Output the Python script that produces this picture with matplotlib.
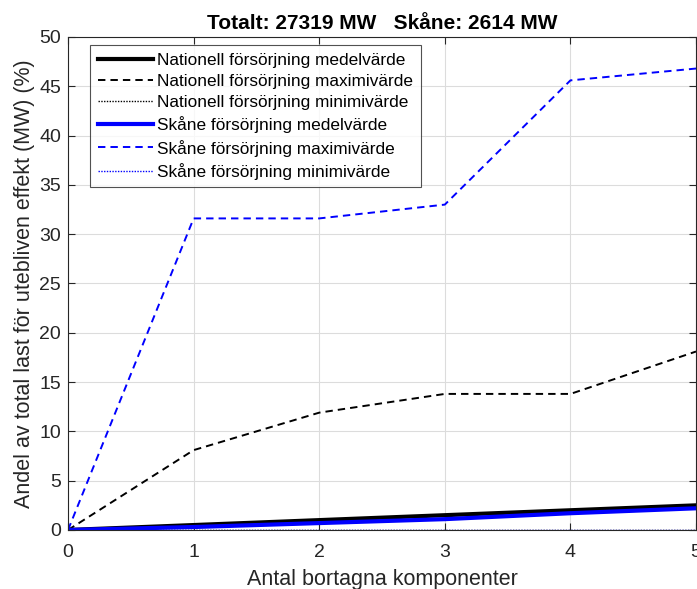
import numpy as np
import matplotlib
matplotlib.use("Agg")
from matplotlib import pyplot as plt

plt.rcParams['font.family'] = ['Liberation Sans', 'DejaVu Sans']

# antal bortagna komponenter
x = [0, 1, 2, 3, 4, 5]

nat_mean = [0, 0.5, 1.0, 1.5, 2.0, 2.5]
nat_max = [0, 8.1, 11.9, 13.8, 13.8, 18.1]
nat_min = [0, 0, 0, 0, 0, 0]
sk_mean = [0, 0.3, 0.7, 1.1, 1.7, 2.2]
sk_max = [0, 31.6, 31.6, 33.0, 45.6, 46.8]
sk_min = [0, 0, 0, 0, 0, 0]

labels = ["Nationell försörjning medelvärde", "Nationell försörjning maximivärde",
          "Nationell försörjning minimivärde", "Skåne försörjning medelvärde",
          "Skåne försörjning maximivärde", "Skåne försörjning minimivärde"]
title = "Totalt: 27319 MW   Skåne: 2614 MW"

fig = plt.figure(figsize=(6.97, 5.89), dpi=100)
ax = fig.add_axes([0.0976, 0.1002, 0.901, 0.8370])

dash = (0, (3.8, 2.6))
dot = (0, (1, 1))
ax.plot(x, nat_mean, color='k', lw=3.0, label=labels[0])
ax.plot(x, nat_max, color='k', lw=1.4, ls=dash, label=labels[1])
ax.plot(x, nat_min, color='k', lw=1.0, ls=dot, label=labels[2])
ax.plot(x, sk_mean, color='#0000ff', lw=3.0, label=labels[3])
ax.plot(x, sk_max, color='#0000ff', lw=1.4, ls=dash, label=labels[4])
ax.plot(x, sk_min, color='#0000ff', lw=1.0, ls=dot, label=labels[5])

ax.set_xlim(0, 5)
ax.set_ylim(0, 50)
ax.set_xticks(range(0, 6))
ax.set_yticks(range(0, 51, 5))
ax.grid(True, color='#dcdcdc', lw=0.8)
ax.set_axisbelow(True)
ax.tick_params(direction='in', top=True, right=True, labelsize=14,
               colors='#262626', length=5, pad=5)
ax.tick_params(axis='x', pad=10)
for s in ax.spines.values():
    s.set_color('#262626')
    s.set_linewidth(0.8)

ax.set_xlabel("Antal bortagna komponenter", fontsize=15.5, color='#262626', labelpad=6)
ax.set_ylabel("Andel av total last för utebliven effekt (MW) (%)", fontsize=15.5,
              color='#262626', labelpad=3)
ax.set_title(title, fontsize=15, fontweight='bold', pad=6)

leg = ax.legend(loc='upper left', bbox_to_anchor=(0.035, 0.984), borderaxespad=0,
                fontsize=12.4, frameon=True, fancybox=False, edgecolor='#262626',
                handlelength=3.2, labelspacing=0.36, borderpad=0.45, handletextpad=0.25)
leg.get_frame().set_linewidth(0.8)

fig.savefig("out.png", dpi=100)
